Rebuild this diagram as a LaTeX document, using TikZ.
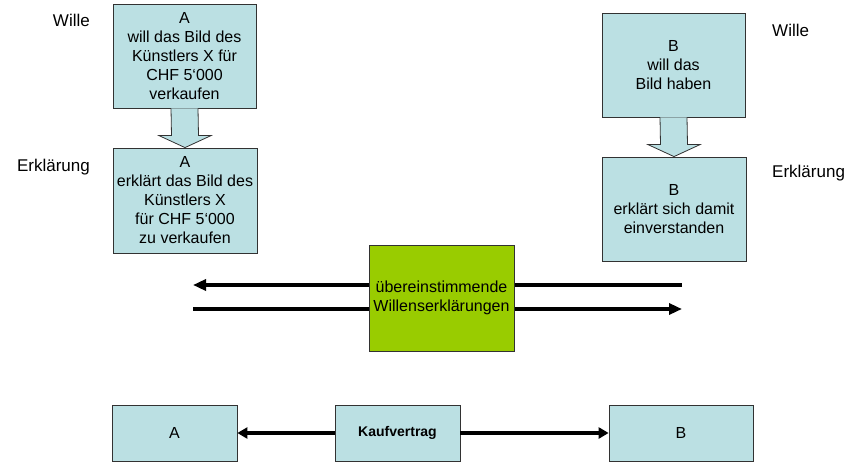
\documentclass[tikz,border=0pt]{standalone}
\usepackage{fontspec}
\setmainfont{Liberation Sans}
\usetikzlibrary{arrows.meta,calc}
\definecolor{kastenblau}{RGB}{187,224,227}
\definecolor{kastengruen}{RGB}{153,204,0}
\definecolor{rand}{RGB}{50,50,50}
\tikzset{
    kasten/.style={draw=rand, fill=kastenblau, line width=0.8pt, align=center,
        inner sep=0pt, font=\fontsize{16}{19}\selectfont},
    grosskasten/.style={kasten, minimum width=143pt, minimum height=104pt},
    flachkasten/.style={kasten, minimum width=125pt, minimum height=56pt},
    seite/.style={font=\fontsize{17}{20}\selectfont, inner sep=0pt},
    blockpfeil/.style={draw=rand, fill=kastenblau, line width=0.8pt},
    langpfeil/.style={line width=3.2pt, -{Triangle[length=13pt,width=11pt]}},
    kurzpfeil/.style={line width=3.8pt, -{Triangle[length=10pt,width=11pt]}}
}
\begin{document}
\begin{tikzpicture}[x=1pt, y=-1pt]

    \useasboundingbox (0,0) rectangle (853,462);

    \node[seite, anchor=east] (willeA) at (90,20) {Wille};
    \node[seite, anchor=east] (erklA) at (90,167) {Erklärung};
    \node[seite, anchor=west] (willeB) at (772,30) {Wille};
    \node[seite, anchor=west] (erklB) at (772,173) {Erklärung};

    \node[grosskasten] (a1) at (184.5,56) {A\\will das Bild des\\Künstlers X für\\CHF 5‘000\\verkaufen};
    \node[grosskasten, minimum width=144pt, minimum height=105pt] (a2) at (185,200.5) {A\\erklärt das Bild des\\Künstlers X\\für CHF 5‘000\\zu verkaufen};
    \node[grosskasten] (b1) at (673.5,65) {B\\will das\\Bild haben};
    \node[grosskasten, minimum width=144pt] (b2) at (674,209) {B\\erklärt sich damit\\einverstanden};

    \draw[blockpfeil] ($(a1.south)+(-13.5,0)$) -- ($(a2.north)+(-13.5,-12)$) -- ($(a2.north)+(-26,-12)$)
        -- (a2.north) -- ($(a2.north)+(26,-12)$) -- ($(a2.north)+(13.5,-12)$) -- ($(a1.south)+(13.5,0)$);
    \draw[blockpfeil] ($(b1.south)+(-13.5,0)$) -- ($(b2.north)+(-13.5,-12)$) -- ($(b2.north)+(-26,-12)$)
        -- (b2.north) -- ($(b2.north)+(26,-12)$) -- ($(b2.north)+(13.5,-12)$) -- ($(b1.south)+(13.5,0)$);

    \coordinate (links1) at (193,285);
    \coordinate (rechts1) at (682,285);
    \coordinate (links2) at (193,309);
    \coordinate (rechts2) at (682,309);
    \draw[langpfeil] (rechts1) -- (links1);
    \draw[langpfeil] (links2) -- (rechts2);

    \node[kasten, fill=kastengruen, minimum width=145pt, minimum height=106pt] (wille) at (441.5,298)
        {übereinstimmende\\Willenserklärungen};

    \node[flachkasten] (a3) at (174.5,433) {A};
    \node[flachkasten, font=\bfseries\fontsize{14}{17}\selectfont] (kauf) at (397.5,433) {Kaufvertrag};
    \node[flachkasten, minimum width=144pt] (b3) at (681,433) {B};

    \draw[kurzpfeil] (kauf) -- (a3);
    \draw[kurzpfeil] (kauf) -- (b3);

\end{tikzpicture}
\end{document}
